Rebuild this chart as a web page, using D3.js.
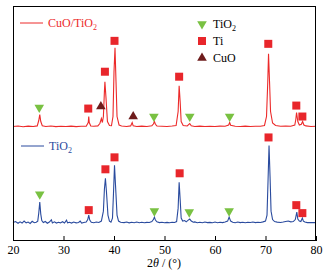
<!DOCTYPE html>
<html lang="en">
<head>
    <meta charset="UTF-8">
    <title>XRD CuO/TiO2</title>
    <script src="https://d3js.org/d3.v7.min.js"></script>
    <style>
        body { margin: 0; background: #fff; }
        text { font-family: "Liberation Serif", "Times New Roman", serif; }
        .frame { fill: none; stroke: #000; stroke-width: 1; }
    </style>
</head>
<body>
    <svg id="chart"></svg>
    <script>
        // 2theta ticks
        const xTicks = [20, 30, 40, 50, 60, 70, 80];

        // TiO2 pattern [2theta, intensity a.u.]
        const tio2Pattern = [
            [20,185],[20.5,195],[21,178],[21.4,192],[21.8,180],[22.2,200],[22.6,182],[23,190],[23.4,176],[23.8,198],
            [24.2,183],[24.6,188],[24.9,200],[25.1,280],[25.3,390],[25.5,270],[25.7,205],[26,185],[26.4,196],[26.8,178],
            [27.2,190],[27.6,212],[27.8,182],[28.2,192],[28.6,180],[29,188],[29.4,182],[29.8,194],[30.2,180],[30.6,210],
            [30.8,182],[31.2,188],[31.6,180],[32,190],[32.5,182],[33,186],[33.3,200],[33.6,180],[34,186],[34.5,190],
            [34.8,215],[35,260],[35.2,210],[35.5,188],[36,184],[36.5,190],[37,186],[37.5,200],[37.9,300],[38.1,520],
            [38.3,630],[38.5,500],[38.8,260],[39.1,200],[39.4,190],[39.7,230],[39.9,480],[40.1,760],[40.3,560],[40.6,260],
            [40.9,200],[41.3,188],[42,185],[42.5,190],[43,182],[43.5,188],[44,184],[44.5,190],[45,183],[45.5,188],
            [46,184],[46.5,187],[47,186],[47.5,195],[47.8,215],[48,240],[48.2,210],[48.5,192],[49,185],[49.5,188],
            [50,183],[50.5,187],[51,184],[51.5,188],[52,186],[52.4,195],[52.7,330],[52.9,590],[53.1,420],[53.3,230],
            [53.6,200],[54,205],[54.3,192],[54.7,210],[55,220],[55.3,200],[55.7,188],[56,192],[56.5,184],[57,188],
            [57.5,183],[58,190],[58.5,185],[59,187],[59.5,184],[60,190],[60.5,183],[61,188],[61.5,185],[62,190],
            [62.5,200],[62.8,240],[63.1,200],[63.5,188],[64,184],[64.5,190],[65,185],[65.5,188],[66,183],[66.5,188],
            [67,186],[67.5,190],[68,185],[68.5,188],[69,186],[69.5,192],[70,200],[70.3,260],[70.5,600],[70.7,960],
            [70.9,650],[71.1,300],[71.4,215],[71.8,195],[72.3,190],[73,186],[73.5,190],[74,195],[74.5,200],[75,192],
            [75.5,195],[75.9,215],[76.2,290],[76.4,220],[76.7,200],[77,195],[77.3,230],[77.5,200],[77.8,190],[78.3,185],
            [79,186],[80,185]
        ];

        // CuO/TiO2 pattern [2theta, intensity a.u.]
        const cuoPattern = [
            [20,1150],[21,1155],[22,1148],[23,1154],[24,1150],[24.8,1156],[25.1,1210],[25.3,1270],[25.5,1200],[25.8,1158],
            [26.5,1150],[27.5,1155],[28.5,1149],[29.5,1153],[30.5,1150],[31.5,1154],[32.5,1149],[33.5,1153],[34.5,1152],[34.9,1190],
            [35,1250],[35.1,1190],[35.4,1155],[36,1152],[36.8,1156],[37.2,1180],[37.5,1230],[37.7,1190],[37.9,1250],[38.1,1500],
            [38.2,1600],[38.4,1450],[38.7,1200],[39.1,1160],[39.5,1158],[39.8,1250],[40,1700],[40.2,1940],[40.4,1600],[40.6,1250],
            [41,1165],[41.5,1155],[42.5,1150],[43.3,1156],[43.6,1190],[43.8,1157],[44.5,1150],[45.5,1154],[46.5,1150],[47.5,1158],
            [47.8,1175],[48,1200],[48.2,1172],[48.5,1155],[49.5,1152],[50.5,1150],[51.5,1155],[52.3,1160],[52.7,1300],[52.9,1560],
            [53.1,1400],[53.3,1200],[53.7,1160],[54.5,1155],[55,1180],[55.3,1158],[56,1150],[57,1154],[58,1150],[59,1153],
            [60,1150],[61,1154],[62,1152],[62.7,1165],[62.9,1190],[63.1,1162],[64,1152],[65,1150],[66,1154],[67,1150],
            [68,1153],[69,1152],[69.8,1160],[70.2,1250],[70.45,1600],[70.6,1880],[70.8,1600],[71,1300],[71.4,1185],[72,1160],
            [73,1153],[74,1155],[75,1152],[75.8,1165],[76,1220],[76.15,1290],[76.4,1200],[76.7,1165],[77.1,1172],[77.35,1200],
            [77.6,1165],[78,1156],[79,1150],[80,1152]
        ];

        // phase markers [2theta, intensity]
        const cuoTiO2Marks = [[25.2,1340],[47.9,1250],[55,1250],[62.9,1250]];
        const cuoTiMarks = [[34.9,1330],[38.2,1700],[40.1,2010],[52.9,1650],[70.55,1980],[76.1,1360],[77.3,1250]];
        const cuoCuOMarks = [[37.4,1350],[43.8,1250]];
        const tio2TiO2Marks = [[25.3,470],[48,300],[54.9,290],[62.8,300]];
        const tio2TiMarks = [[35,310],[38.3,720],[40.1,840],[53,680],[70.6,1040],[76.1,360],[77.3,280]];

        const width = 327, height = 272;
        const margin = { top: 6, right: 11, bottom: 31, left: 13 };

        const colRed = '#ec2a2a', colBlue = '#2a4b9e', colGreen = '#79c142', colSq = '#e8262b', colDark = '#6e1c1c';

        const svg = d3.select('#chart').attr('width', width).attr('height', height);

        const x = d3.scaleLinear().domain([20, 80]).range([margin.left, width - margin.right]);
        const y = d3.scaleLinear().domain([0, 2360]).range([height - margin.bottom, margin.top]);

        const line = d3.line().x(d => x(d[0])).y(d => y(d[1]));

        svg.append('path').datum(tio2Pattern).attr('d', line)
            .attr('fill', 'none').attr('stroke', colBlue).attr('stroke-width', 1.1);
        svg.append('path').datum(cuoPattern).attr('d', line)
            .attr('fill', 'none').attr('stroke', colRed).attr('stroke-width', 1.1);

        const triDown = d3.symbol().type(d3.symbolTriangle).size(40)();

        function drawTri(data, color, down) {
            svg.selectAll(null).data(data).enter().append('path')
                .attr('d', triDown)
                .attr('transform', d => `translate(${x(d[0])},${y(d[1])})` + (down ? ' rotate(180)' : ''))
                .attr('fill', color);
        }
        function drawSq(data) {
            svg.selectAll(null).data(data).enter().append('rect')
                .attr('x', d => x(d[0]) - 4).attr('y', d => y(d[1]) - 4)
                .attr('width', 8).attr('height', 8)
                .attr('fill', colSq);
        }

        drawTri(cuoTiO2Marks, colGreen, true);
        drawSq(cuoTiMarks);
        drawTri(cuoCuOMarks, colDark, false);
        drawTri(tio2TiO2Marks, colGreen, true);
        drawSq(tio2TiMarks);

        // frame
        svg.append('rect').attr('class', 'frame')
            .attr('x', margin.left + 0.5).attr('y', margin.top + 0.5)
            .attr('width', width - margin.left - margin.right - 1)
            .attr('height', height - margin.bottom - margin.top - 1);

        // x axis, ticks pointing inward
        const xAxis = svg.append('g')
            .attr('transform', `translate(0,${height - margin.bottom})`)
            .call(d3.axisBottom(x).tickValues(xTicks).tickSizeInner(-5).tickSizeOuter(0).tickPadding(4));
        xAxis.select('.domain').remove();
        xAxis.selectAll('line').attr('stroke', '#000');
        xAxis.selectAll('text')
            .attr('font-family', '"Liberation Serif", serif')
            .attr('font-size', 12).attr('fill', '#000');

        const title = svg.append('text')
            .attr('x', 164).attr('y', 267)
            .attr('text-anchor', 'middle').attr('font-size', 12);
        title.append('tspan').text('2');
        title.append('tspan').attr('font-style', 'italic').text('θ');
        title.append('tspan').text(' / (°)');

        // series labels
        function seriesLabel(xl, yl, color, main) {
            svg.append('line').attr('x1', xl).attr('x2', xl + 23)
                .attr('y1', yl).attr('y2', yl).attr('stroke', color).attr('stroke-width', 1);
            const t = svg.append('text').attr('x', xl + 28).attr('y', yl + 4)
                .attr('font-size', 12).attr('fill', color);
            t.append('tspan').text(main);
            t.append('tspan').attr('font-size', 8).attr('dy', 3).text('2');
        }
        seriesLabel(20, 23, colRed, 'CuO/TiO');
        seriesLabel(21, 146, colBlue, 'TiO');

        // phase legend
        const lg = svg.append('g');
        const lgItems = [
            { name: 'TiO', sub: '2', kind: 'down', color: colGreen },
            { name: 'Ti', sub: '', kind: 'sq', color: colSq },
            { name: 'CuO', sub: '', kind: 'up', color: colDark }
        ];
        lgItems.forEach((it, i) => {
            const yy = 24 + i * 17;
            if (it.kind === 'sq') {
                lg.append('rect').attr('x', 202 - 4).attr('y', yy - 4)
                    .attr('width', 8).attr('height', 8).attr('fill', it.color);
            } else {
                lg.append('path').attr('d', triDown)
                    .attr('transform', `translate(202,${yy})` + (it.kind === 'down' ? ' rotate(180)' : ''))
                    .attr('fill', it.color);
            }
            const t = lg.append('text').attr('x', 213).attr('y', yy + 4).attr('font-size', 12).attr('fill', '#000');
            t.append('tspan').text(it.name);
            if (it.sub) t.append('tspan').attr('font-size', 8).attr('dy', 3).text(it.sub);
        });
    </script>
</body>
</html>
